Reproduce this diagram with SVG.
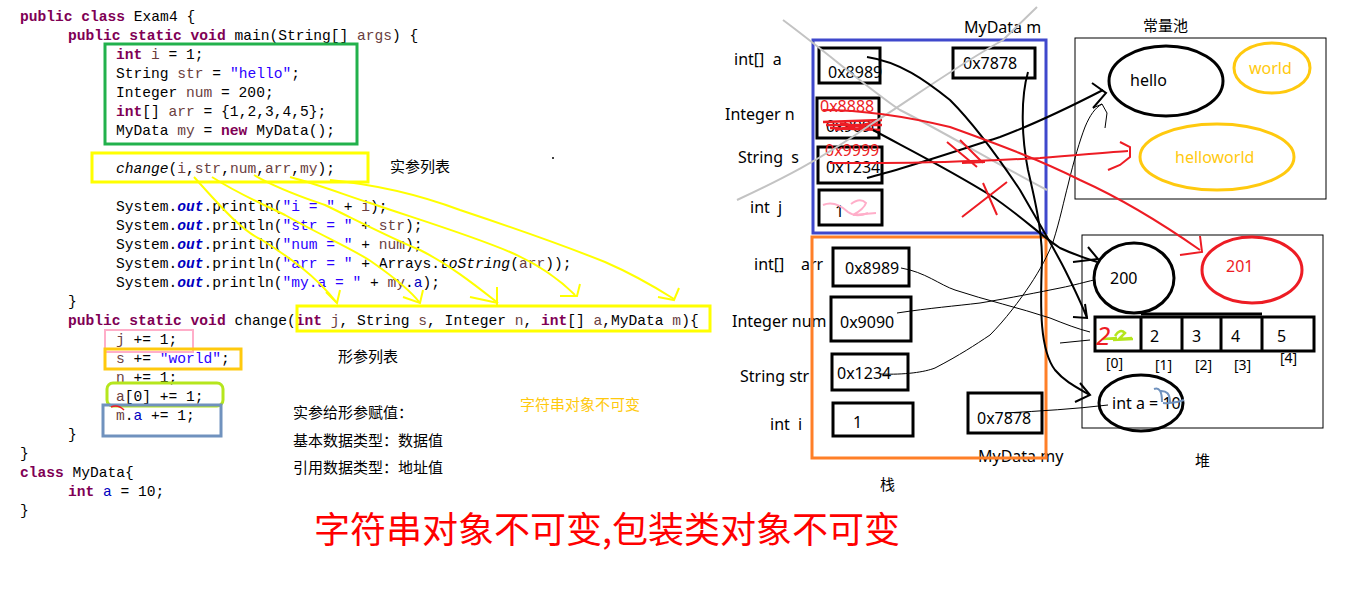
<svg xmlns="http://www.w3.org/2000/svg" width="1360" height="605" viewBox="0 0 1360 605">
<style>
.code{font-family:"Liberation Mono","DejaVu Sans Mono",monospace;font-size:14.6px;fill:#000;white-space:pre}
.kw{fill:#7f0055;font-weight:bold}
.v{fill:#6a3e3e}
.s{fill:#2a00ff}
.f{fill:#0000c0}
.fo{fill:#0000c0;font-weight:bold;font-style:italic}
.it{font-style:italic}
.cn{font-family:"Noto Sans CJK SC","Noto Sans",sans-serif;font-size:15px;fill:#000}
.lb{font-family:"Noto Sans","Noto Sans CJK SC",sans-serif;font-size:16px;fill:#000;white-space:pre}
.bx{fill:none;stroke:#000;stroke-width:3}
.thin{fill:none;stroke:#000;stroke-width:1}
.thick{fill:none;stroke:#000;stroke-width:2}
.red{fill:none;stroke:#ed1c24;stroke-width:2}
.grey{fill:none;stroke:#c3c3c3;stroke-width:2}
.yl{fill:none;stroke:#ffff00;stroke-width:2}
</style>
<rect width="1360" height="605" fill="#fff"/>

<g id="code">
<text class="code" x="20" y="21"><tspan class="kw">public class</tspan> Exam4 {</text>
<text class="code" x="68" y="40"><tspan class="kw">public static void</tspan> main(String[] <tspan class="v">args</tspan>) {</text>
<text class="code" x="116" y="59"><tspan class="kw">int</tspan> <tspan class="v">i</tspan> = 1;</text>
<text class="code" x="116" y="78">String <tspan class="v">str</tspan> = <tspan class="s">"hello"</tspan>;</text>
<text class="code" x="116" y="97">Integer <tspan class="v">num</tspan> = 200;</text>
<text class="code" x="116" y="116"><tspan class="kw">int</tspan>[] <tspan class="v">arr</tspan> = {1,2,3,4,5};</text>
<text class="code" x="116" y="135">MyData <tspan class="v">my</tspan> = <tspan class="kw">new</tspan> MyData();</text>
<text class="code" x="116" y="173"><tspan class="it">change</tspan>(<tspan class="v">i</tspan>,<tspan class="v">str</tspan>,<tspan class="v">num</tspan>,<tspan class="v">arr</tspan>,<tspan class="v">my</tspan>);</text>
<text class="code" x="116" y="211">System.<tspan class="fo">out</tspan>.println(<tspan class="s">"i = "</tspan> + <tspan class="v">i</tspan>);</text>
<text class="code" x="116" y="230">System.<tspan class="fo">out</tspan>.println(<tspan class="s">"str = "</tspan> + <tspan class="v">str</tspan>);</text>
<text class="code" x="116" y="249">System.<tspan class="fo">out</tspan>.println(<tspan class="s">"num = "</tspan> + <tspan class="v">num</tspan>);</text>
<text class="code" x="116" y="268">System.<tspan class="fo">out</tspan>.println(<tspan class="s">"arr = "</tspan> + Arrays.<tspan class="it">toString</tspan>(<tspan class="v">arr</tspan>));</text>
<text class="code" x="116" y="287">System.<tspan class="fo">out</tspan>.println(<tspan class="s">"my.a = "</tspan> + <tspan class="v">my</tspan>.<tspan class="f">a</tspan>);</text>
<text class="code" x="68" y="306">}</text>
<text class="code" x="68" y="325"><tspan class="kw">public static void</tspan> change(<tspan class="kw">int</tspan> <tspan class="v">j</tspan>, String <tspan class="v">s</tspan>, Integer <tspan class="v">n</tspan>, <tspan class="kw">int</tspan>[] <tspan class="v">a</tspan>,MyData <tspan class="v">m</tspan>){</text>
<text class="code" x="116" y="344"><tspan class="v">j</tspan> += 1;</text>
<text class="code" x="116" y="363"><tspan class="v">s</tspan> += <tspan class="s">"world"</tspan>;</text>
<text class="code" x="116" y="382"><tspan class="v">n</tspan> += 1;</text>
<text class="code" x="116" y="401"><tspan class="v">a</tspan>[0] += 1;</text>
<text class="code" x="116" y="420"><tspan class="v">m</tspan>.<tspan class="f">a</tspan> += 1;</text>
<text class="code" x="68" y="439">}</text>
<text class="code" x="20" y="458">}</text>
<text class="code" x="20" y="477"><tspan class="kw">class</tspan> MyData{</text>
<text class="code" x="68" y="496"><tspan class="kw">int</tspan> <tspan class="f">a</tspan> = 10;</text>
<text class="code" x="20" y="515">}</text>
</g>

<g id="highlights">
<rect x="105" y="44" width="252" height="100" fill="none" stroke="#22b14c" stroke-width="3"/>
<rect x="92" y="153" width="276" height="29" fill="none" stroke="#ffff00" stroke-width="3"/>
<rect x="297" y="306" width="413" height="25" fill="none" stroke="#ffff00" stroke-width="3"/>
<rect x="105" y="330" width="88" height="22" fill="none" stroke="#ffaec9" stroke-width="2"/>
<rect x="105" y="349" width="136" height="20" fill="none" stroke="#ffc90e" stroke-width="3"/>
<rect x="107" y="383" width="116" height="23" rx="6" fill="none" stroke="#b5e61d" stroke-width="3"/>
<rect x="103" y="405" width="118" height="31" fill="none" stroke="#7092be" stroke-width="3"/>
<path d="M111,407 Q118,404 124,410" fill="none" stroke="#ed1c24" stroke-width="1.5"/>
</g>

<g id="notes">
<text class="cn" x="390" y="172">实参列表</text>
<text class="cn" x="338" y="362">形参列表</text>
<text class="cn" x="293" y="418">实参给形参赋值：</text>
<text class="cn" x="293" y="446">基本数据类型：数据值</text>
<text class="cn" x="293" y="473">引用数据类型：地址值</text>
<text class="cn" x="520" y="410" style="fill:#ffc90e">字符串对象不可变</text>
<text x="314" y="543" style="font-family:'Noto Sans CJK SC',sans-serif;font-size:36px;fill:#ff0000">字符串对象不可变,包装类对象不可变</text>
<circle cx="553" cy="158" r="1" fill="#000"/>
</g>

<g id="arg-connectors">
<path class="yl" d="M194,177 C215,200 240,230 262,240 C290,258 315,275 337,303"/>
<path class="yl" d="M326,292 L337,303 L340,290"/>
<path class="yl" d="M212,177 C240,195 265,205 285,215 C320,235 355,250 372,262 C395,278 410,290 420,303"/>
<path class="yl" d="M403,297 L420,303 L423,290"/>
<path class="yl" d="M254,175 C280,190 305,198 325,205 C360,222 395,240 420,250 C450,265 475,285 498,303"/>
<path class="yl" d="M470,297 L498,303 M497,287 L497,307"/>
<path class="yl" d="M290,177 C320,185 345,195 370,203 C420,220 470,235 510,252 C540,265 560,280 575,295"/>
<path class="yl" d="M560,296 L577,296 L580,284"/>
<path class="yl" d="M330,180 C380,185 420,195 460,210 C520,230 575,250 605,262 C635,275 655,287 674,299"/>
<path class="yl" d="M658,297 L674,300 L679,288"/>
</g>

<g id="stack-labels">
<text class="lb" x="734" y="65">int[]  a</text>
<text class="lb" x="725" y="120">Integer n</text>
<text class="lb" x="738" y="163">String  s</text>
<text class="lb" x="750" y="213">int  j</text>
<text class="lb" x="964" y="33">MyData m</text>
<text class="lb" x="754" y="270">int[]    arr</text>
<text class="lb" x="732" y="327">Integer num</text>
<text class="lb" x="740" y="382">String str</text>
<text class="lb" x="770" y="430">int  i</text>
<text class="lb" x="978" y="462">MyData my</text>
<text class="lb" x="880" y="490" style="font-family:'Noto Sans CJK SC',sans-serif;font-size:15px">栈</text>
<text class="lb" x="1143" y="31" style="font-family:'Noto Sans CJK SC',sans-serif;font-size:15px">常量池</text>
<text class="lb" x="1195" y="466" style="font-family:'Noto Sans CJK SC',sans-serif;font-size:15px">堆</text>
</g>

<g id="change-frame">
<rect x="813" y="40" width="233" height="193" fill="none" stroke="#3f48cc" stroke-width="3"/>
<rect class="bx" x="819" y="48" width="61" height="35"/>
<text class="lb" x="828" y="78">0x8989</text>
<rect class="bx" x="953" y="48" width="82" height="30"/>
<text class="lb" x="963" y="69">0x7878</text>
<rect class="bx" x="817" y="98" width="62" height="40"/>
<text class="lb" x="826" y="132">0x9090</text>
<path d="M823,122 L882,120 M826,125 L882,125 M830,128 L880,130 M840,123 L872,129 M835,130 L878,122" fill="none" stroke="#ed1c24" stroke-width="2.5"/>
<text class="lb" x="820" y="112" style="fill:#ed1c24">0x8888</text>
<rect class="bx" x="818" y="147" width="64" height="36"/>
<text class="lb" x="826" y="173">0x1234</text>
<text class="lb" x="825" y="156" style="fill:#ed1c24">0x9999</text>
<rect class="bx" x="819" y="190" width="63" height="35"/>
<text class="lb" x="835" y="217">1</text>
<path d="M823,205 Q835,200 848,212 Q856,218 868,213" fill="none" stroke="#ffaec9" stroke-width="2"/>
<path d="M851,204 Q860,197 866,203 Q864,209 853,215 L876,213" fill="none" stroke="#ffaec9" stroke-width="2"/>
</g>

<g id="main-frame">
<rect x="812" y="237" width="234" height="221" fill="none" stroke="#ff7f27" stroke-width="3"/>
<rect class="bx" x="833" y="248" width="76" height="38"/>
<text class="lb" x="845" y="274">0x8989</text>
<rect class="bx" x="831" y="297" width="80" height="44"/>
<text class="lb" x="840" y="328">0x9090</text>
<rect class="bx" x="832" y="354" width="76" height="36"/>
<text class="lb" x="837" y="379">0x1234</text>
<rect class="bx" x="833" y="403" width="80" height="33"/>
<text class="lb" x="853" y="428">1</text>
<rect class="bx" x="968" y="393" width="74" height="40"/>
<text class="lb" x="977" y="424">0x7878</text>
</g>

<g id="constant-pool">
<rect x="1075" y="38" width="251" height="161" fill="none" stroke="#000" stroke-width="1"/>
<ellipse cx="1166" cy="81" rx="57" ry="35" fill="none" stroke="#000" stroke-width="3"/>
<text class="lb" x="1130" y="86">hello</text>
<ellipse cx="1272" cy="68" rx="38" ry="25" fill="none" stroke="#ffc90e" stroke-width="3"/>
<text class="lb" x="1249" y="74" style="fill:#ffc90e">world</text>
<ellipse cx="1217" cy="157" rx="77" ry="33" fill="none" stroke="#ffc90e" stroke-width="3"/>
<text class="lb" x="1175" y="163" style="fill:#ffc90e">helloworld</text>
</g>

<g id="heap">
<rect x="1082" y="235" width="241" height="193" fill="none" stroke="#000" stroke-width="1"/>
<ellipse cx="1134" cy="278" rx="40" ry="35" fill="none" stroke="#000" stroke-width="3"/>
<text class="lb" x="1110" y="284">200</text>
<ellipse cx="1252" cy="270" rx="50" ry="33" fill="none" stroke="#ed1c24" stroke-width="3"/>
<text class="lb" x="1226" y="272" style="fill:#ed1c24">201</text>
<rect class="bx" x="1095" y="317" width="219" height="34"/>
<path d="M1141,317 L1141,351 M1182,317 L1182,351 M1221,317 L1221,351 M1262,317 L1262,351" fill="none" stroke="#000" stroke-width="3"/>
<path d="M1141,314 L1262,314" fill="none" stroke="#000" stroke-width="3"/>
<text class="lb" x="1150" y="342">2</text>
<text class="lb" x="1192" y="342">3</text>
<text class="lb" x="1231" y="342">4</text>
<text class="lb" x="1277" y="342">5</text>
<path d="M1103,339 L1117,338 M1115,336 Q1120,328 1125,333 L1119,339 L1132,338 M1113,340 L1133,339" fill="none" stroke="#b5e61d" stroke-width="2.5"/>
<text x="1096" y="345" style="font-family:'Noto Sans',sans-serif;font-size:26px;font-style:italic;fill:#ed1c24">2</text>
<text class="lb" x="1106" y="368" style="font-size:14px">[0]</text>
<text class="lb" x="1155" y="370" style="font-size:14px">[1]</text>
<text class="lb" x="1195" y="370" style="font-size:14px">[2]</text>
<text class="lb" x="1234" y="370" style="font-size:14px">[3]</text>
<text class="lb" x="1280" y="363" style="font-size:14px">[4]</text>
<ellipse cx="1141" cy="403" rx="42" ry="28" fill="none" stroke="#000" stroke-width="3"/>
<text class="lb" x="1112" y="409">int a = 10</text>
<path d="M1154,389 Q1162,386 1162,402 M1160,391 Q1170,390 1170,402 M1163,403 Q1174,404 1184,400" fill="none" stroke="#7092be" stroke-width="2"/>
</g>

<g id="connectors">
<path class="grey" d="M737,200 C780,180 820,160 870,125 C910,100 950,70 1003,40 L1037,7"/>
<path class="grey" d="M783,20 C830,55 870,90 900,110 C940,130 990,160 1047,190"/>

<path class="thick" d="M867,57 C900,62 925,80 950,100 C975,125 1000,160 1020,190 C1040,225 1055,250 1065,270 C1075,290 1082,305 1087,318"/>
<path class="thick" d="M1073,317 L1087,318 L1085,304"/>
<path class="thick" d="M1028,72 C1020,100 1022,140 1028,170 C1035,200 1042,230 1042,260 C1040,310 1040,350 1055,370 C1065,382 1078,388 1090,395"/>
<path class="thick" d="M1080,383 L1090,395 L1075,402"/>
<path class="thick" d="M873,130 C910,150 950,170 990,195 C1020,215 1040,235 1060,248 C1075,255 1085,258 1097,262"/>
<path class="thick" d="M1088,247 L1098,259 L1073,262"/>
<path class="thick" d="M867,178 C900,170 960,150 1000,137 C1040,122 1070,107 1103,90"/>
<path class="thick" d="M1092,83 L1106,93 L1093,108"/>

<path class="thin" d="M901,268 C925,272 940,285 955,290 C985,300 1020,308 1050,318 C1065,324 1078,329 1090,332"/>
<path class="thin" d="M1060,343 L1090,340"/>
<path class="thin" d="M897,313 C930,308 955,306 980,303 C1010,298 1040,292 1060,288 C1075,285 1085,282 1094,280"/>
<path class="thin" d="M880,374 C905,375 925,372 935,368 C960,355 975,345 990,335 C1005,320 1020,300 1030,285 C1040,270 1048,255 1053,242 C1060,220 1064,200 1068,185 C1074,160 1080,140 1085,127 C1090,115 1095,108 1102,104"/>
<path class="thin" d="M1093,108 L1102,104 L1107,113 L1105,128"/>
<path class="thin" d="M1005,413 C1040,411 1075,409 1108,405"/>

<path class="red" d="M823,110 C860,110 900,115 950,127 C1000,145 1040,160 1080,180 C1120,198 1160,222 1200,250"/>
<path class="red" d="M1200,236 L1202,252 L1180,255"/>
<path class="red" d="M830,163 L882,163 C950,163 1000,160 1040,158 C1080,155 1110,152 1128,151"/>
<path class="red" d="M1120,142 L1130,147 L1130,157 L1120,165 L1108,170"/>
<path class="red" d="M962,217 L1007,182 M983,183 L997,215"/>
<path class="red" d="M947,142 L977,167 M960,140 L983,163 M962,163 L985,162"/>
</g>
</svg>
